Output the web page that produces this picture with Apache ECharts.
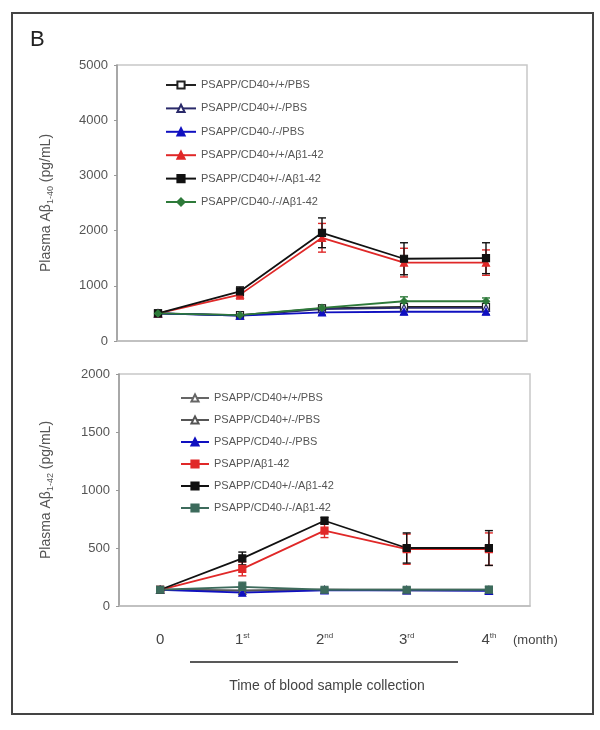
<!DOCTYPE html>
<html>
<head>
<meta charset="utf-8">
<script src="https://cdn.jsdelivr.net/npm/echarts@6/dist/echarts.min.js"></script>
<style>
	html, body { margin: 0; padding: 0; background: #fff; }
	#main { width: 600px; height: 730px; }
</style>
</head>
<body>
<div id="main"></div>
<script>
// x categories (month)
var months = ['0', '1st', '2nd', '3rd', '4th'];

// legend names
var namesTop = ['PSAPP/CD40+/+/PBS', 'PSAPP/CD40+/-/PBS', 'PSAPP/CD40-/-/PBS',
	'PSAPP/CD40+/+/A\u03b21-42', 'PSAPP/CD40+/-/A\u03b21-42', 'PSAPP/CD40-/-/A\u03b21-42'];
var namesBot = ['PSAPP/CD40+/+/PBS ', 'PSAPP/CD40+/-/PBS ', 'PSAPP/CD40-/-/PBS ',
	'PSAPP/A\u03b21-42', 'PSAPP/CD40+/-/A\u03b21-42 ', 'PSAPP/CD40-/-/A\u03b21-42 '];

// Abeta 1-40 (top)
var top1 = [500, 470, 590, 620, 620];
var top2 = [500, 460, 580, 600, 600];
var top3 = [500, 460, 520, 530, 530];
var top4 = [500, 840, 1870, 1420, 1420];
var top5 = [500, 900, 1960, 1490, 1500];
var top6 = [500, 470, 600, 720, 720];
var topErr4 = [20, 80, 260, 260, 230];
var topErr5 = [20, 80, 270, 290, 280];
var topErr6 = [20, 40, 50, 80, 60];
var topErr3 = [20, 30, 50, 50, 50];

// Abeta 1-42 (bottom)
var bot1 = [140, 130, 140, 140, 140];
var bot2 = [140, 135, 140, 135, 135];
var bot3 = [140, 115, 135, 135, 130];
var bot4 = [140, 320, 650, 490, 490];
var bot5 = [140, 410, 735, 500, 500];
var bot6 = [140, 165, 140, 140, 140];
var botErr4 = [10, 60, 60, 130, 140];
var botErr5 = [10, 55, 30, 130, 150];
var botErr6 = [10, 40, 15, 20, 30];

// styles of the six groups
var colorsTop = ['#222', '#2a2a6a', '#1010c0', '#e02828', '#111', '#2e7a3a'];
var colorsBot = ['#666', '#555', '#1010c0', '#e02828', '#111', '#3d6b5c'];
var symbolsTop = ['rect', 'triangle', 'triangle', 'triangle', 'rect', 'diamond'];
var symbolsBot = ['triangle', 'triangle', 'triangle', 'rect', 'rect', 'rect'];
var hollowTop = [true, true, false, false, false, false];
var hollowBot = [true, true, false, false, false, false];

var FONT = 'Liberation Sans, Arial, sans-serif';

function lineSeries(name, data, color, symbol, hollow, idx) {
	return {
		name: name,
		type: 'line',
		xAxisIndex: idx,
		yAxisIndex: idx,
		data: data,
		symbol: symbol,
		symbolSize: 7,
		lineStyle: { color: color, width: 1.8 },
		itemStyle: {
			color: hollow ? '#fff' : color,
			borderColor: color,
			borderWidth: 1.2
		},
		z: 3
	};
}

// error bars through the axis scales
function errSeries(values, errs, color, idx) {
	var d = [];
	for (var i = 0; i < values.length; i++) {
		d.push([i, values[i] - errs[i], values[i] + errs[i]]);
	}
	return {
		type: 'custom',
		xAxisIndex: idx,
		yAxisIndex: idx,
		data: d,
		itemStyle: { color: color },
		z: 2,
		renderItem: function(params, api) {
			var x = api.value(0);
			var hi = api.coord([x, api.value(2)]);
			var lo = api.coord([x, api.value(1)]);
			var w = 4;
			var st = { stroke: color, lineWidth: 1.4 };
			return {
				type: 'group',
				children: [
					{ type: 'line', shape: { x1: hi[0], y1: hi[1], x2: lo[0], y2: lo[1] }, style: st },
					{ type: 'line', shape: { x1: hi[0] - w, y1: hi[1], x2: hi[0] + w, y2: hi[1] }, style: st },
					{ type: 'line', shape: { x1: lo[0] - w, y1: lo[1], x2: lo[0] + w, y2: lo[1] }, style: st }
				]
			};
		}
	};
}

var topData = [top1, top2, top3, top4, top5, top6];
var botData = [bot1, bot2, bot3, bot4, bot5, bot6];

var series = [];
series.push(errSeries(top4, topErr4, colorsTop[3], 0));
series.push(errSeries(top5, topErr5, colorsTop[4], 0));
series.push(errSeries(top6, topErr6, colorsTop[5], 0));
series.push(errSeries(top3, topErr3, colorsTop[2], 0));
series.push(errSeries(bot4, botErr4, colorsBot[3], 1));
series.push(errSeries(bot5, botErr5, colorsBot[4], 1));
series.push(errSeries(bot6, botErr6, colorsBot[5], 1));
for (var i = 0; i < 6; i++) {
	series.push(lineSeries(namesTop[i], topData[i], colorsTop[i], symbolsTop[i], hollowTop[i], 0));
}
for (var j = 0; j < 6; j++) {
	series.push(lineSeries(namesBot[j], botData[j], colorsBot[j], symbolsBot[j], hollowBot[j], 1));
}

function yAxis(idx, max, interval, title, sub, gap) {
	return {
		type: 'value',
		gridIndex: idx,
		min: 0,
		max: max,
		interval: interval,
		axisLine: { show: true, lineStyle: { color: '#999', width: 1.5 } },
		axisTick: { show: true, length: 3, lineStyle: { color: '#999' } },
		splitLine: { show: false },
		axisLabel: {
			color: '#555', fontSize: 13, fontFamily: FONT, margin: 9,
			formatter: function(v) { return String(v); }
		},
		name: title + '{sub|' + sub + '} (pg/mL)',
		nameLocation: 'middle',
		nameGap: gap,
		nameRotate: 90,
		nameTextStyle: {
			color: '#555', fontSize: 14, fontFamily: FONT,
			rich: { sub: { fontSize: 9, color: '#555', fontFamily: FONT, padding: [8, 0, 0, 0] } }
		}
	};
}

var chart = echarts.init(document.getElementById('main'));

var option = {
	backgroundColor: '#fff',
	animation: false,
	textStyle: { fontFamily: FONT },
	grid: [
		{ left: 117, top: 65, width: 410, height: 276, show: true, borderColor: '#c8c8c8', borderWidth: 1.5 },
		{ left: 119, top: 374, width: 411, height: 232, show: true, borderColor: '#c8c8c8', borderWidth: 1.5 }
	],
	xAxis: [{
		type: 'category',
		gridIndex: 0,
		data: months,
		axisLine: { lineStyle: { color: '#bbb', width: 1.5 } },
		axisTick: { show: false },
		axisLabel: { show: false }
	}, {
		type: 'category',
		gridIndex: 1,
		data: months,
		axisLine: { lineStyle: { color: '#bbb', width: 1.5 } },
		axisTick: { show: false },
		axisLabel: {
			color: '#444',
			fontSize: 15,
			fontFamily: FONT,
			margin: 26,
			formatter: function(v) {
				if (v === '0') return v;
				return v.charAt(0) + '{sup|' + v.substring(1) + '}';
			},
			rich: { sup: { fontSize: 8, color: '#444', fontFamily: FONT, padding: [0, 0, 8, 0] } }
		}
	}],
	yAxis: [
		yAxis(0, 5000, 1000, 'Plasma A\u03b2', '1-40', 62),
		yAxis(1, 2000, 500, 'Plasma A\u03b2', '1-42', 64)
	],
	legend: [{
		data: namesTop,
		orient: 'vertical',
		left: 160,
		top: 73,
		itemWidth: 30,
		itemHeight: 9,
		itemGap: 9.4,
		textStyle: { color: '#555', fontSize: 11, fontFamily: FONT, lineHeight: 14 }
	}, {
		data: namesBot,
		orient: 'vertical',
		left: 175,
		top: 386,
		itemWidth: 28,
		itemHeight: 9,
		itemGap: 8,
		textStyle: { color: '#555', fontSize: 11, fontFamily: FONT, lineHeight: 14 }
	}],
	graphic: [
		// 外框
		{ type: 'rect', shape: { x: 12, y: 13, width: 581, height: 701 }, style: { fill: 'none', stroke: '#444', lineWidth: 2 } },
		{ type: 'text', left: 30, top: 29, style: { text: 'B', fontSize: 22, fontFamily: FONT, fill: '#222' } },
		// x axis unit and caption
		{ type: 'text', x: 513, y: 640, style: { text: '(month)', fontSize: 13, fontFamily: FONT, fill: '#444', align: 'left', verticalAlign: 'middle' } },
		{ type: 'line', shape: { x1: 190, y1: 662, x2: 458, y2: 662 }, style: { stroke: '#222', lineWidth: 1.6 } },
		{ type: 'text', x: 327, y: 686, style: { text: 'Time of blood sample collection', fontSize: 14, fontFamily: FONT, fill: '#444', align: 'center', verticalAlign: 'middle' } }
	],
	series: series
};

chart.setOption(option);
</script>
</body>
</html>
